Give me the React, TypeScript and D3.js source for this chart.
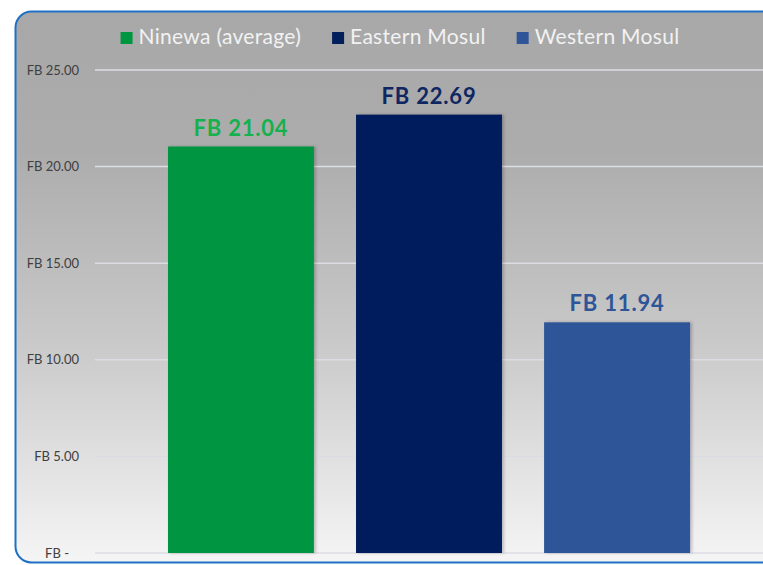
import React, { useEffect, useRef } from 'react';
import * as d3 from 'd3';

// chart data
const seriesNames = ['Ninewa (average)', 'Eastern Mosul', 'Western Mosul'];
const seriesValues = [21.04, 22.69, 11.94];
const barColors = ['#00953f', '#001f5b', '#2e5597'];
const labelColors = ['#14b14f', '#0e2662', '#2e5597'];
const yTicks = [0, 5, 10, 15, 20, 25];

const W = 763;
const H = 565;
const FONT = 'Lato, "Open Sans", sans-serif';

const tickLabel = (v: number) => (v === 0 ? 'FB -   ' : `FB ${d3.format('.2f')(v)}`);
const valueLabel = (v: number) => `FB ${d3.format('.2f')(v)}`;

const App = () => {
  const svgRef = useRef<SVGSVGElement>(null);

  useEffect(() => {
    document.body.style.margin = '0';

    const svg = d3.select(svgRef.current).attr('width', W).attr('height', H);
    svg.selectAll('*').remove();

    // plot area
    const plot = { left: 95, right: 763, top: 70, bottom: 553 };

    const y = d3.scaleLinear().domain([0, 25]).range([plot.bottom, plot.top]);
    const x = d3
      .scaleBand<string>()
      .domain(seriesNames)
      .range([plot.left, plot.right])
      .paddingInner(0.224)
      .paddingOuter(0.388);

    const defs = svg.append('defs');
    const grad = defs
      .append('linearGradient')
      .attr('id', 'bg')
      .attr('x1', 0).attr('y1', 0).attr('x2', 0).attr('y2', 1);
    grad.append('stop').attr('offset', '0%').attr('stop-color', '#a8a8a8');
    grad.append('stop').attr('offset', '25%').attr('stop-color', '#acacac');
    grad.append('stop').attr('offset', '60%').attr('stop-color', '#c9c9c9');
    grad.append('stop').attr('offset', '100%').attr('stop-color', '#f5f5f5');

    const shadow = defs.append('filter').attr('id', 'shadow')
      .attr('x', '-10%').attr('y', '-10%').attr('width', '130%').attr('height', '120%');
    shadow.append('feDropShadow')
      .attr('dx', 2).attr('dy', 0).attr('stdDeviation', 1.5)
      .attr('flood-color', '#000').attr('flood-opacity', 0.22);

    // frame
    svg
      .append('rect')
      .attr('x', 15.5)
      .attr('y', 11.5)
      .attr('width', 780)
      .attr('height', 551)
      .attr('rx', 16)
      .attr('fill', 'url(#bg)')
      .attr('stroke', '#1f70c4')
      .attr('stroke-width', 2);

    // grid lines
    svg
      .append('g')
      .selectAll('line')
      .data(yTicks)
      .enter()
      .append('line')
      .attr('x1', plot.left)
      .attr('x2', W)
      .attr('y1', (d) => y(d))
      .attr('y2', (d) => y(d))
      .attr('stroke', '#dcdde4')
      .attr('stroke-width', 1.5);

    // y tick labels
    svg
      .append('g')
      .selectAll('text')
      .data(yTicks)
      .enter()
      .append('text')
      .attr('x', 79)
      .attr('y', (d) => y(d) + 4.5)
      .attr('text-anchor', 'end')
      .attr('xml:space', 'preserve')
      .style('white-space', 'pre')
      .style('font-family', FONT)
      .style('font-size', '13px')
      .style('fill', '#404040')
      .text((d) => tickLabel(d));

    // bars
    svg
      .append('g')
      .selectAll('rect')
      .data(seriesValues)
      .enter()
      .append('rect')
      .attr('x', (d, i) => x(seriesNames[i]) as number)
      .attr('y', (d) => y(d))
      .attr('width', x.bandwidth())
      .attr('height', (d) => y(0) - y(d))
      .attr('fill', (d, i) => barColors[i])
      .attr('filter', 'url(#shadow)');

    // value labels
    svg
      .append('g')
      .selectAll('text')
      .data(seriesValues)
      .enter()
      .append('text')
      .attr('x', (d, i) => (x(seriesNames[i]) as number) + x.bandwidth() / 2)
      .attr('y', (d) => y(d) - 11)
      .attr('text-anchor', 'middle')
      .style('font-family', FONT)
      .style('font-size', '22px')
      .style('font-weight', 'bold')
      .style('letter-spacing', '0.8px')
      .style('fill', (d, i) => labelColors[i])
      .text((d) => valueLabel(d));

    // legend, laid out from measured text widths and centred
    const legend = svg.append('g');
    const items = legend
      .selectAll('g')
      .data(seriesNames)
      .enter()
      .append('g');
    items
      .append('rect')
      .attr('y', 32)
      .attr('width', 12)
      .attr('height', 12)
      .attr('fill', (d, i) => barColors[i]);
    const texts = items
      .append('text')
      .attr('x', 18)
      .attr('y', 44)
      .style('font-family', FONT)
      .style('font-size', '21px')
      .style('letter-spacing', '0.3px')
      .style('fill', '#f2f2f2')
      .text((d) => d);

    const widths = texts.nodes().map((n) => (n as SVGTextElement).getComputedTextLength());
    const gap = 31;
    const total = d3.sum(widths, (w) => 18 + w) + gap * (widths.length - 1);
    let cx = 400 - total / 2;
    items.attr('transform', (d, i) => {
      const t = `translate(${cx},0)`;
      cx += 18 + widths[i] + gap;
      return t;
    });
  }, []);

  return <svg ref={svgRef} style={{ display: 'block' }} />;
};

export default App;
